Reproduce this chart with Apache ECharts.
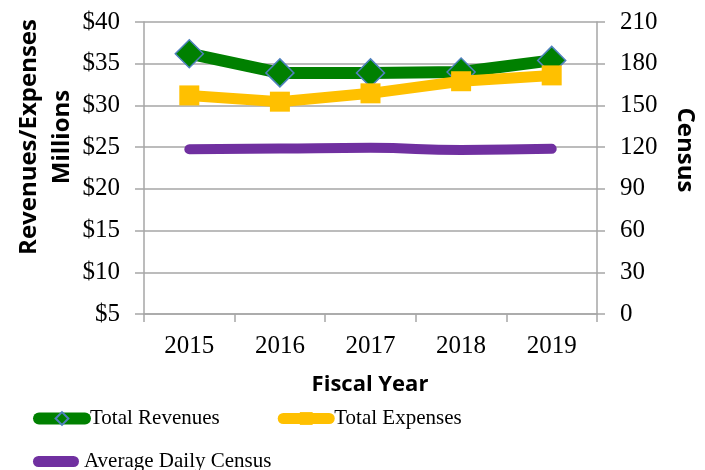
<!DOCTYPE html>
<html>
<head>
<meta charset="utf-8">
<script src="https://cdn.jsdelivr.net/npm/echarts@6/dist/echarts.min.js"></script>
<style>
  html, body { margin: 0; padding: 0; background: #fff; }
  #chart { width: 705px; height: 470px; }
</style>
</head>
<body>
<div id="chart"></div>
<script>
// fiscal years on the x axis
const years = ['2015', '2016', '2017', '2018', '2019'];
// revenues and expenses, $ millions (left axis)
const totalRevenues = [36.2, 33.9, 33.9, 34.0, 35.4];
const totalExpenses = [31.2, 30.45, 31.45, 32.9, 33.6];
// average daily census (right axis)
const dailyCensus = [118.5, 119.0, 119.5, 118.0, 118.8];

const gridColor = '#a6a6a6';
const serif = '"Liberation Serif", "Times New Roman", serif';
const sans = '"Open Sans", "Noto Sans", sans-serif';

const chart = echarts.init(document.getElementById('chart'));

const legendText = {color: '#000', fontFamily: serif, fontSize: 21};

const options = {
    animation: false,
    grid: {
        left: 144,
        right: 108,
        top: 22,
        bottom: 156
    },
    xAxis: {
        type: 'category',
        data: years,
        boundaryGap: true,
        axisLine: {lineStyle: {color: gridColor, width: 1.5}},
        axisTick: {show: true, length: 8, lineStyle: {color: gridColor, width: 1.5}},
        axisLabel: {
            color: '#000',
            fontFamily: serif,
            fontSize: 25,
            margin: 20
        }
    },
    yAxis: [
        {
            type: 'value',
            min: 5,
            max: 40,
            interval: 5,
            axisLine: {show: true, lineStyle: {color: gridColor, width: 1.5}},
            axisTick: {show: true, length: 9, lineStyle: {color: gridColor, width: 1.5}},
            splitLine: {show: true, lineStyle: {color: gridColor, width: 1.5}},
            axisLabel: {
                color: '#000',
                fontFamily: serif,
                fontSize: 25,
                margin: 24,
                formatter: v => '$' + v
            }
        },
        {
            type: 'value',
            min: 0,
            max: 210,
            interval: 30,
            position: 'right',
            axisLine: {show: true, lineStyle: {color: gridColor, width: 1.5}},
            axisTick: {show: true, length: 8, lineStyle: {color: gridColor, width: 1.5}},
            splitLine: {show: false},
            axisLabel: {
                color: '#000',
                fontFamily: serif,
                fontSize: 25,
                margin: 23
            }
        }
    ],
    legend: [
        {
            left: 33,
            top: 408,
            padding: 0,
            itemWidth: 46,
            itemHeight: 16,
            itemGap: 58,
            textStyle: legendText,
            data: [
                {
                    name: 'Total Revenues',
                    lineStyle: {width: 12, cap: 'round'}
                },
                {
                    name: 'Total Expenses',
                    lineStyle: {width: 11, cap: 'round'}
                }
            ]
        },
        {
            left: 33,
            top: 451,
            padding: 0,
            itemWidth: 46,
            itemHeight: 11,
            textStyle: legendText,
            data: [
                {
                    name: 'Average Daily Census',
                    icon: 'path://M5.5,0 L40.5,0 A5.5,5.5 0 0 1 40.5,11 L5.5,11 A5.5,5.5 0 0 1 5.5,0 Z'
                }
            ]
        }
    ],
    graphic: [
        {
            type: 'text',
            x: 46,
            y: 137,
            rotation: Math.PI / 2,
            style: {
                text: 'Revenues/Expenses\nMillions',
                font: 'bold 24px ' + sans,
                lineHeight: 33,
                fill: '#000',
                align: 'center',
                verticalAlign: 'middle'
            }
        },
        {
            type: 'text',
            x: 685,
            y: 150,
            rotation: -Math.PI / 2,
            style: {
                text: 'Census',
                font: 'bold 24px ' + sans,
                fill: '#000',
                align: 'center',
                verticalAlign: 'middle'
            }
        },
        {
            type: 'text',
            x: 370,
            y: 385,
            style: {
                text: 'Fiscal Year',
                font: 'bold 22px ' + sans,
                fill: '#000',
                align: 'center',
                verticalAlign: 'middle'
            }
        }
    ],
    series: [
        {
            name: 'Total Revenues',
            type: 'line',
            yAxisIndex: 0,
            data: totalRevenues,
            symbol: 'diamond',
            symbolSize: 28,
            lineStyle: {color: '#008000', width: 12},
            itemStyle: {color: '#008000', borderColor: '#4f81bd', borderWidth: 1.5},
            z: 3
        },
        {
            name: 'Total Expenses',
            type: 'line',
            yAxisIndex: 0,
            data: totalExpenses,
            symbol: 'rect',
            symbolSize: 20,
            lineStyle: {color: '#ffc000', width: 11},
            itemStyle: {color: '#ffc000', borderWidth: 0},
            z: 4
        },
        {
            name: 'Average Daily Census',
            type: 'line',
            yAxisIndex: 1,
            data: dailyCensus,
            smooth: true,
            symbol: 'none',
            lineStyle: {color: '#7030a0', width: 10, cap: 'round'},
            itemStyle: {color: '#7030a0'}
        }
    ]
};

chart.setOption(options);
</script>
</body>
</html>
